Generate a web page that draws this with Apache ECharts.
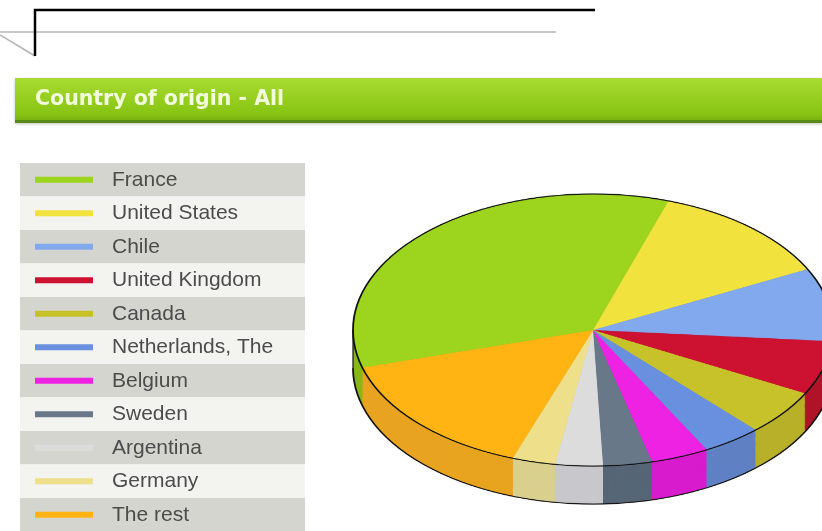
<!DOCTYPE html>
<html>
<head>
<meta charset="utf-8">
<title>Country of origin - All</title>
<script src="https://cdn.jsdelivr.net/npm/echarts@6/dist/echarts.min.js"></script>
<style>
html, body { margin: 0; padding: 0; width: 822px; height: 531px; overflow: hidden; background: #fff; }
#page { position: absolute; left: 0; top: 0; width: 822px; height: 531px; }
/* the pie is drawn round, then squashed to look tilted */
#pie { position: absolute; left: 0; top: 150px; width: 900px; height: 650px; transform: scaleY(0.567); transform-origin: 0 0; }
</style>
</head>
<body>
<div id="page"></div>
<div id="pie"></div>
<script>
// data
const countries = ['France', 'United States', 'Chile', 'United Kingdom', 'Canada', 'Netherlands, The', 'Belgium', 'Sweden', 'Argentina', 'Germany', 'The rest'];
const shares = [34.5, 12.5, 8.7, 6.4, 5.4, 4.0, 3.9, 3.3, 3.2, 2.9, 15.1];

// colours
const topColors = ['#9cd41e', '#f2e23e', '#82a8ee', '#cc1230', '#c8c22a', '#6890de', '#ee22e2', '#687888', '#dcdcdc', '#eee08a', '#ffb414'];
const sideColors = ['#88b818', '#d8c830', '#6e92d4', '#b01428', '#b8b028', '#6080c4', '#d81ccc', '#566676', '#c8c8cc', '#dad08e', '#e8a420'];

// 页面: 标题 + 图例
const page = echarts.init(document.getElementById('page'));
const rowH = 33.5;
const rowTop = 163;

const rows = countries.map((c, i) => ({
    type: 'rect',
    silent: true,
    z: 1,
    shape: { x: 20, y: rowTop + rowH * i, width: 285, height: rowH },
    style: { fill: i % 2 ? '#f3f3ef' : '#d5d5cf' }
}));

page.setOption({
    animation: false,
    graphic: [
        { type: 'line', silent: true, shape: { x1: 0, y1: 32, x2: 556, y2: 32 }, style: { stroke: '#c8c8c8', lineWidth: 2 } },
        { type: 'line', silent: true, shape: { x1: 0, y1: 35, x2: 35, y2: 56 }, style: { stroke: '#b4b4b4', lineWidth: 1.5 } },
        { type: 'polyline', silent: true, shape: { points: [[35, 56], [35, 10], [595, 10]] }, style: { stroke: '#000', lineWidth: 2.5, fill: 'none' } },
        {
            type: 'rect', silent: true,
            shape: { x: 15, y: 78, width: 807, height: 45 },
            style: {
                fill: new echarts.graphic.LinearGradient(0, 0, 0, 1, [
                    { offset: 0, color: '#a8dc30' },
                    { offset: 0.8, color: '#88c414' },
                    { offset: 1, color: '#74aa10' }
                ]),
                shadowColor: 'rgba(0,0,0,0.25)', shadowBlur: 3, shadowOffsetY: 1
            }
        },
        { type: 'rect', silent: true, shape: { x: 15, y: 120, width: 807, height: 3 }, style: { fill: '#5a8a18' } },
        {
            type: 'text', silent: true, x: 35, y: 100,
            style: { text: 'Country of origin - All', fill: '#f2fcdc', font: 'bold 20.5px "DejaVu Sans", sans-serif', verticalAlign: 'middle' }
        }
    ].concat(rows),
    legend: {
        orient: 'vertical',
        left: 35,
        top: rowTop,
        height: 420,
        padding: 0,
        itemGap: 0,
        itemWidth: 58,
        itemHeight: 6,
        icon: 'rect',
        selectedMode: false,
        data: countries,
        textStyle: { fontFamily: 'Liberation Sans', fontSize: 21, color: '#4c4c4c', lineHeight: rowH, padding: [0, 0, 0, 14] }
    },
    series: [{
        // 只给图例用
        type: 'pie',
        radius: 0,
        center: [-50, -50],
        silent: true,
        label: { show: false },
        data: countries.map((c, i) => ({ name: c, value: shares[i], itemStyle: { color: topColors[i] } }))
    }]
});

// 3D 饼图
const pie = echarts.init(document.getElementById('pie'));
const cx = 593;
const cyTop = 317.5;
const R = 240;
const depth = 67;
const layers = 34;

function pieSeries(cy, colors) {
    return {
        type: 'pie',
        radius: R,
        center: [cx, cy],
        startAngle: 196,
        clockwise: true,
        silent: true,
        label: { show: false },
        labelLine: { show: false },
        itemStyle: { borderWidth: 0 },
        data: countries.map((c, i) => ({ name: c, value: shares[i], itemStyle: { color: colors[i] } }))
    };
}

const series = [];
for (let k = 0; k < layers; k++) {
    series.push(pieSeries(cyTop + depth * (1 - k / layers), sideColors));
}
series.push(pieSeries(cyTop, topColors));

pie.setOption({
    animation: false,
    series: series,
    graphic: [
        { type: 'circle', silent: true, z: 100, shape: { cx: cx, cy: cyTop, r: R }, style: { fill: 'none', stroke: '#111', lineWidth: 1.8 } },
        { type: 'arc', silent: true, z: 100, shape: { cx: cx, cy: cyTop + depth, r: R, startAngle: 0, endAngle: Math.PI }, style: { fill: 'none', stroke: '#111', lineWidth: 1.8 } },
        { type: 'line', silent: true, z: 100, shape: { x1: cx - R, y1: cyTop, x2: cx - R, y2: cyTop + depth }, style: { stroke: '#111', lineWidth: 1.2 } },
        { type: 'line', silent: true, z: 100, shape: { x1: cx + R, y1: cyTop, x2: cx + R, y2: cyTop + depth }, style: { stroke: '#111', lineWidth: 1.2 } }
    ]
});
</script>
</body>
</html>
